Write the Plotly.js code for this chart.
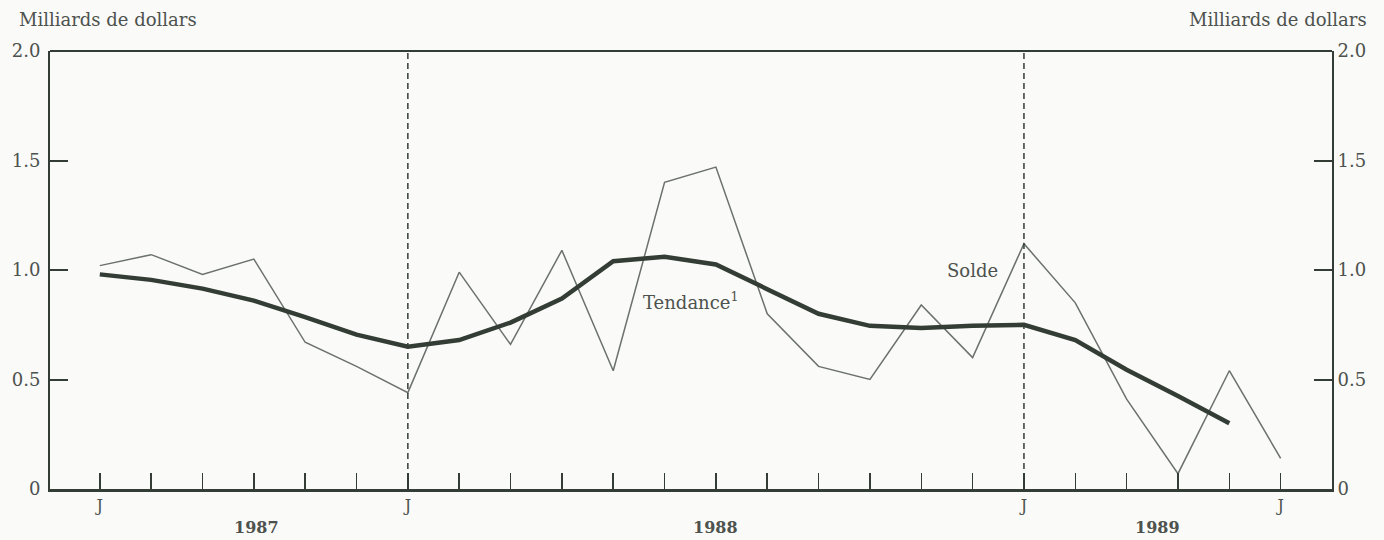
<!DOCTYPE html>
<html>
<head>
<meta charset="utf-8">
<script src="https://cdn.plot.ly/plotly-3.0.1.min.js"></script>
<style>
  html, body { margin: 0; padding: 0; background: #fafaf8; }
  #chart { width: 1384px; height: 540px; }
</style>
</head>
<body>
<div id="chart"></div>
<script>
// months from July 1987 to June 1989 (index 0 = Jul 1987)
var months = [0, 1, 2, 3, 4, 5, 6, 7, 8, 9, 10, 11, 12, 13, 14, 15, 16, 17, 18, 19, 20, 21, 22, 23];
var labelMonths = [0, 6, 18, 23];
var monthLabels = ['J', 'J', 'J', 'J'];

// monthly balance, billions of dollars
var solde = [1.02, 1.07, 0.98, 1.05, 0.67, 0.56, 0.44, 0.99, 0.66, 1.09, 0.54, 1.40,
             1.47, 0.80, 0.56, 0.50, 0.84, 0.60, 1.12, 0.85, 0.41, 0.07, 0.54, 0.14];
// trend
var tendance = [0.98, 0.955, 0.915, 0.86, 0.785, 0.705, 0.65, 0.68, 0.76, 0.87, 1.04, 1.06,
                1.025, 0.915, 0.80, 0.745, 0.735, 0.745, 0.75, 0.68, 0.545, 0.425, 0.30, null];

var yTicks = [0, 0.5, 1, 1.5, 2];
var yTickText = ['0', '0.5', '1.0', '1.5', '2.0'];

var years = ['1987', '1988', '1989'];
var yearPos = [3.05, 12.0, 20.6];
var januaries = [6, 18];

var ink = '#333d35';
var textColor = '#4d524e';
var font = 'DejaVu Serif, Liberation Serif, serif';

var traces = [
  {
    x: months,
    y: solde,
    mode: 'lines',
    type: 'scatter',
    name: 'Solde',
    line: { color: '#6b716c', width: 1.5 },
    hoverinfo: 'skip'
  },
  {
    x: months,
    y: tendance,
    mode: 'lines',
    type: 'scatter',
    name: 'Tendance',
    yaxis: 'y2',
    line: { color: ink, width: 4.5 },
    hoverinfo: 'skip'
  }
];

var shapes = [
  // top border
  { type: 'line', xref: 'paper', yref: 'paper', x0: 0, x1: 1, y0: 1, y1: 1,
    line: { color: ink, width: 2 } }
];
januaries.forEach(function (m) {
  shapes.push({ type: 'line', xref: 'x', yref: 'paper', x0: m, x1: m, y0: 0, y1: 1,
    line: { color: ink, width: 1.5, dash: '6px,4px' } });
});

var annotations = [
  { text: 'Milliards de dollars', xref: 'paper', yref: 'paper', x: -0.026, y: 1.071,
    xanchor: 'left', yanchor: 'middle', showarrow: false, font: { family: font, size: 18, color: textColor } },
  { text: 'Milliards de dollars', xref: 'paper', yref: 'paper', x: 1.029, y: 1.071,
    xanchor: 'right', yanchor: 'middle', showarrow: false, font: { family: font, size: 18, color: textColor } },
  { text: 'Tendance<sup>1</sup>', xref: 'x', yref: 'y', x: 11.5, y: 0.86,
    showarrow: false, font: { family: font, size: 18, color: textColor } },
  { text: 'Solde', xref: 'x', yref: 'y', x: 17.0, y: 1.0,
    showarrow: false, font: { family: font, size: 18, color: textColor } }
];
years.forEach(function (yr, i) {
  annotations.push({ text: '<b>' + yr + '</b>', xref: 'x', yref: 'paper', x: yearPos[i], y: -0.089,
    xanchor: 'center', yanchor: 'middle', showarrow: false, font: { family: font, size: 16, color: textColor } });
});

var yAxisCommon = {
  range: [0, 2],
  tickvals: yTicks,
  ticktext: yTickText,
  ticks: 'inside',
  ticklen: 18,
  tickwidth: 2,
  tickcolor: ink,
  showline: true,
  linewidth: 2,
  linecolor: ink,
  showgrid: false,
  zeroline: false,
  fixedrange: true,
  tickfont: { family: font, size: 18, color: textColor }
};

var layout = {
  width: 1384,
  height: 540,
  paper_bgcolor: '#fafaf8',
  plot_bgcolor: '#fafaf8',
  showlegend: false,
  margin: { l: 50, r: 52, t: 51, b: 51 },
  xaxis: {
    range: [-0.97, 24.0],
    tickvals: labelMonths,
    ticktext: monthLabels,
    ticks: 'inside',
    ticklen: 16,
    tickwidth: 1.5,
    tickcolor: ink,
    minor: { tickvals: months, ticks: 'inside', ticklen: 16, tickwidth: 1.5, tickcolor: ink },
    showline: true,
    linewidth: 3,
    linecolor: ink,
    showgrid: false,
    zeroline: false,
    fixedrange: true,
    tickfont: { family: font, size: 16, color: textColor }
  },
  yaxis: Object.assign({}, yAxisCommon, { side: 'left', ticklabelstandoff: 4 }),
  yaxis2: Object.assign({}, yAxisCommon, { side: 'right', overlaying: 'y' }),
  shapes: shapes,
  annotations: annotations
};

Plotly.newPlot('chart', traces, layout, { displayModeBar: false, staticPlot: true });
</script>
</body>
</html>
